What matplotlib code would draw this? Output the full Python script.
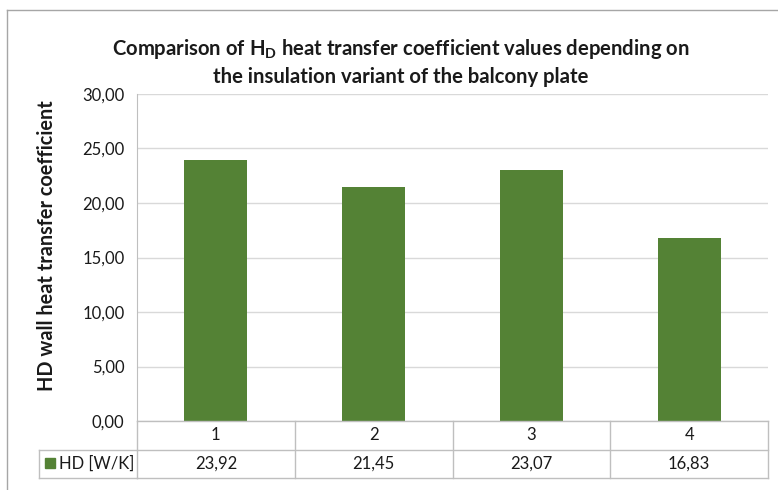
import matplotlib
matplotlib.use("Agg")
import matplotlib.pyplot as plt
from matplotlib.lines import Line2D
from matplotlib.patches import Rectangle
from matplotlib.ticker import FuncFormatter

categories = ["1", "2", "3", "4"]
values = [23.92, 21.45, 23.07, 16.83]
series_name = "HD [W/K]"
title_line1 = "Comparison of H$_\\mathbf{D}$ heat transfer coefficient values depending on"
title_line2 = "the insulation variant of the balcony plate"
y_label = "HD wall heat transfer coefficient"
y_ticks = [0, 5, 10, 15, 20, 25, 30]

FONT = ["Lato", "DejaVu Sans"]
plt.rcParams["font.family"] = FONT
plt.rcParams["mathtext.fontset"] = "custom"
plt.rcParams["mathtext.rm"] = "Lato"
plt.rcParams["mathtext.bf"] = "Lato:bold"

GREEN = "#548235"
GRID = "#d9d9d9"
TLINE = "#bfbfbf"
TEXT = "#1a1a1a"
W, H = 778, 490

fig = plt.figure(figsize=(W / 100, H / 100), dpi=100)

def fx(px):
    return px / W

def fy(py):
    return 1 - py / H

# outer chart border
fig.add_artist(Line2D([fx(7), fx(7)], [0, fy(10)], color="#a6a6a6", lw=1.0))
fig.add_artist(Line2D([fx(7), 1], [fy(10), fy(10)], color="#a6a6a6", lw=1.0))

left, right, top, bottom = 137, 768, 94, 421
ax = fig.add_axes([fx(left), fy(bottom), fx(right - left), (bottom - top) / H])
x = list(range(len(categories)))
ax.bar(x, values, width=0.40, color=GREEN, zorder=3)
ax.set_xlim(-0.5, len(categories) - 0.5)
ax.set_ylim(0, 30)
ax.set_yticks(y_ticks)
ax.yaxis.set_major_formatter(FuncFormatter(lambda v, p: f"{v:.2f}".replace(".", ",")))
ax.tick_params(axis="y", length=0, pad=9, labelsize=12, labelcolor=TEXT)
ax.set_xticks([])
ax.grid(axis="y", color=GRID, lw=1.0, zorder=0)
for s in ["top", "right", "bottom"]:
    ax.spines[s].set_visible(False)
ax.spines["left"].set_color(TLINE)

# data table
tb = 478
tax = fig.add_axes([fx(left), fy(tb), fx(right - left), (tb - bottom) / H])
tax.set_xlim(-0.5, len(categories) - 0.5)
tax.set_ylim(0, 2)
tax.axis("off")
n = len(categories)
for yy in [0, 1, 2]:
    tax.plot([-0.5, n - 0.5], [yy, yy], color=TLINE, lw=1.0, clip_on=False)
for xx in range(n + 1):
    tax.plot([xx - 0.5, xx - 0.5], [0, 2], color=TLINE, lw=1.0, clip_on=False)
unit = (right - left) / n
leg_left = -0.5 - (left - 39) / unit
tax.plot([leg_left, -0.5], [0, 0], color=TLINE, lw=1.0, clip_on=False)
tax.plot([leg_left, -0.5], [1, 1], color=TLINE, lw=1.0, clip_on=False)
tax.plot([leg_left, leg_left], [0, 1], color=TLINE, lw=1.0, clip_on=False)
for i, (c, v) in enumerate(zip(categories, values)):
    tax.text(i, 1.5, c, ha="center", va="center", fontsize=12, color=TEXT)
    tax.text(i, 0.5, f"{v:.2f}".replace(".", ","), ha="center", va="center", fontsize=12, color=TEXT)
# legend key
fig.patches.append(Rectangle((fx(45), fy(468)), fx(10), 10 / H, color=GREEN, transform=fig.transFigure))
fig.text(fx(59), fy(463.5), series_name, ha="left", va="center", fontsize=12, color=TEXT)

# titles
fig.text(fx(401), fy(55), title_line1, ha="center", va="baseline", fontsize=14.6, fontweight="bold", color=TEXT)
fig.text(fx(401), fy(83), title_line2, ha="center", va="baseline", fontsize=14.6, fontweight="bold", color=TEXT)
fig.text(fx(47), fy(246), y_label, ha="center", va="center", rotation=90, fontsize=14.3, fontweight="bold", color=TEXT)

fig.savefig("out.png", dpi=100)
